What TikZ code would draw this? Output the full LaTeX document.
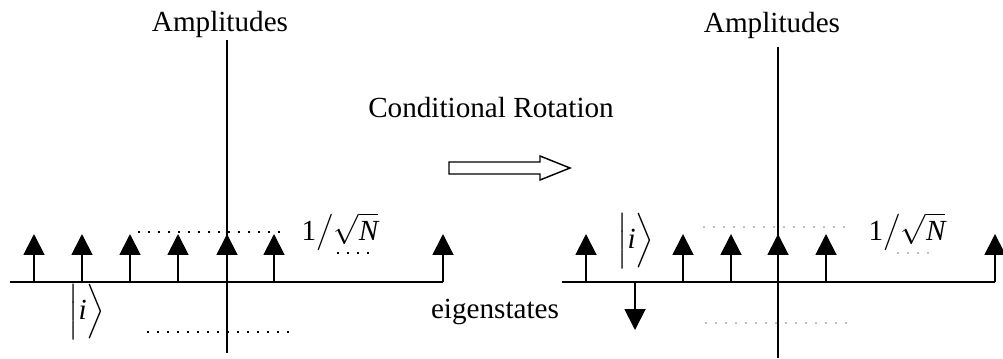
\documentclass[tikz,border=0pt]{standalone}
\usepackage{amsmath}
\usepackage{fontspec}
\setmainfont{Liberation Serif}
\usetikzlibrary{arrows.meta}

\begin{document}
\begin{tikzpicture}[x=0.02cm,y=-0.02cm,
	amp/.style={line width=1.1pt,-{Triangle[length=0.42cm,width=0.42cm]}},
	axis/.style={line width=1.1pt},
	lbl/.style={font=\fontsize{16.6}{20}\selectfont,inner sep=0pt},
	guide/.style={line width=0.6pt,dash pattern=on 1.2pt off 4.5pt},
	faint/.style={guide,black!25}]
	\useasboundingbox (0,0) rectangle (1003,358);
	
	% left: equal amplitudes
	\draw[axis] (10,282) -- (443,282);
	\draw[axis] (227,40) -- (227,353);
	\foreach \x in {34,82,130,178,227,274,443}
		\draw[amp] (\x,282) -- (\x,234);
	\draw[guide] (138,232) -- (287,232);
	\draw[guide] (337,253) -- (372,253);
	\draw[guide] (147,332) -- (293,332);
	
	\node[lbl,anchor=base] (ampL) at (220,32) {Amplitudes};
	\node[lbl,anchor=base] (normL) at (340,240) {1$\big/\sqrt{\text{\itshape N}}$};
	\node[lbl] (ketL) at (87,312) {$\Big|\text{\itshape i}\Big\rangle$};
	
	% middle
	\node[lbl,anchor=base] (rot) at (491,117) {Conditional Rotation};
	\draw[line width=0.8pt] (449,162) -- (540,162) -- (540,156) -- (570,168)
		-- (540,180) -- (540,174) -- (449,174) -- cycle;
	\node[lbl,anchor=base] (eig) at (495,318) {eigenstates};
	
	% right: one amplitude flipped
	\draw[axis] (562,282) -- (995,282);
	\draw[axis] (778,47) -- (778,358);
	\foreach \x in {586,683,731,778,826,995}
		\draw[amp] (\x,282) -- (\x,234);
	\draw[amp] (635,282) -- (635,330);
	\draw[faint] (703,227) -- (853,227);
	\draw[faint] (897,253) -- (932,253);
	\draw[faint] (705,323) -- (852,323);
	
	\node[lbl,anchor=base] (ampR) at (772,33) {Amplitudes};
	\node[lbl,anchor=base] (normR) at (907,240) {1$\big/\sqrt{\text{\itshape N}}$};
	\node[lbl] (ketR) at (636,241) {$\Big|\text{\itshape i}\Big\rangle$};
\end{tikzpicture}
\end{document}
